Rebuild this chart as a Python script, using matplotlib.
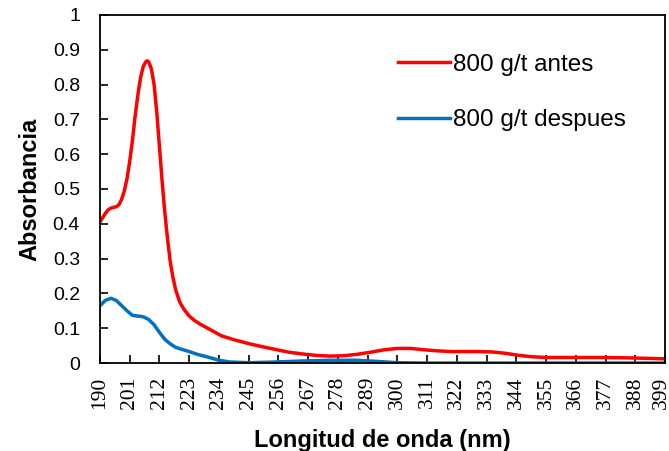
import numpy as np
import matplotlib.pyplot as plt
from matplotlib.transforms import ScaledTranslation

# wavelength (nm) and absorbance
wl_antes = [190, 191, 192, 193, 194, 195, 196, 197, 198, 199, 200, 201, 202, 203,
            204, 205, 206, 207, 207.5, 208, 209, 210, 211, 212, 213, 214, 215, 216,
            217, 218, 219.5, 221, 223, 225, 227, 231, 235, 240, 245, 250, 255, 260,
            265, 270, 275, 280, 285, 290, 295, 300, 305, 310, 315, 320, 325, 330,
            335, 340, 345, 350, 355, 365, 375, 385, 395, 399]
abs_antes = [0.405, 0.418, 0.43, 0.44, 0.445, 0.447, 0.449, 0.455, 0.47, 0.495,
             0.53, 0.58, 0.64, 0.71, 0.77, 0.82, 0.852, 0.866, 0.868, 0.865, 0.845,
             0.8, 0.72, 0.62, 0.52, 0.43, 0.355, 0.29, 0.245, 0.21, 0.175, 0.155,
             0.135, 0.122, 0.112, 0.095, 0.078, 0.066, 0.056, 0.047, 0.039, 0.031,
             0.026, 0.022, 0.02, 0.021, 0.025, 0.031, 0.038, 0.042, 0.042, 0.038,
             0.035, 0.033, 0.033, 0.033, 0.032, 0.028, 0.022, 0.018, 0.016, 0.016,
             0.016, 0.015, 0.013, 0.012]

wl_despues = [190, 192, 194, 196, 198, 200, 202, 204, 206, 208, 210, 212, 214, 216,
              218, 220, 223, 226, 230, 234, 238, 245, 255, 265, 275, 285, 292, 300,
              310, 399]
abs_despues = [0.165, 0.18, 0.186, 0.18, 0.165, 0.15, 0.137, 0.135, 0.133, 0.125,
               0.11, 0.088, 0.068, 0.055, 0.045, 0.04, 0.033, 0.025, 0.017, 0.008,
               0.003, 0.001, 0.003, 0.006, 0.008, 0.008, 0.005, 0.001, 0.0, 0.0]

x_ticks = list(range(190, 400, 11))
y_ticks = [0, 0.1, 0.2, 0.3, 0.4, 0.5, 0.6, 0.7, 0.8, 0.9, 1]
y_labels = ['0', '0.1', '0.2', '0.3', '0.4', '0.5', '0.6', '0.7', '0.8', '0.9', '1']

plt.rcParams['font.family'] = 'Liberation Sans'

fig = plt.figure(figsize=(6.69, 4.51), dpi=100)
ax = fig.add_axes([0.1495, 0.195, 0.8445, 0.772])

ax.plot(wl_antes, abs_antes, color='#FF0000', linewidth=2.5, label='800 g/t antes')
ax.plot(wl_despues, abs_despues, color='#0070C0', linewidth=2.5, label='800 g/t despues')

ax.set_xlim(190, 399)
ax.set_ylim(0, 1)
ax.set_xticks(x_ticks)
ax.set_xticklabels([str(t) for t in x_ticks], rotation=90,
                   family='Liberation Serif', fontsize=15.5)
ax.set_yticks(y_ticks)
ax.set_yticklabels(y_labels, fontsize=14)
ax.tick_params(direction='in', length=6, width=1.2, color='black')
ax.tick_params(axis='y', pad=14.5)
ax.tick_params(axis='x', pad=10)
for s in ax.spines.values():
    s.set_linewidth(1.3)

# keep the last rotated label inside the image
last = ax.get_xticklabels()[-1]
last.set_transform(last.get_transform() + ScaledTranslation(-4 / 100, 0, fig.dpi_scale_trans))

ax.set_xlabel('Longitud de onda (nm)', fontsize=17, fontweight='bold', labelpad=14)
ax.set_ylabel('Absorbancia', fontsize=17, fontweight='bold', labelpad=8)

ax.legend(loc='upper left', bbox_to_anchor=(0.527, 0.888), frameon=False,
          borderpad=0, borderaxespad=0,
          fontsize=17.5, handlelength=2.15, handletextpad=0.12, labelspacing=1.38)

fig.savefig('out.png', dpi=100)
